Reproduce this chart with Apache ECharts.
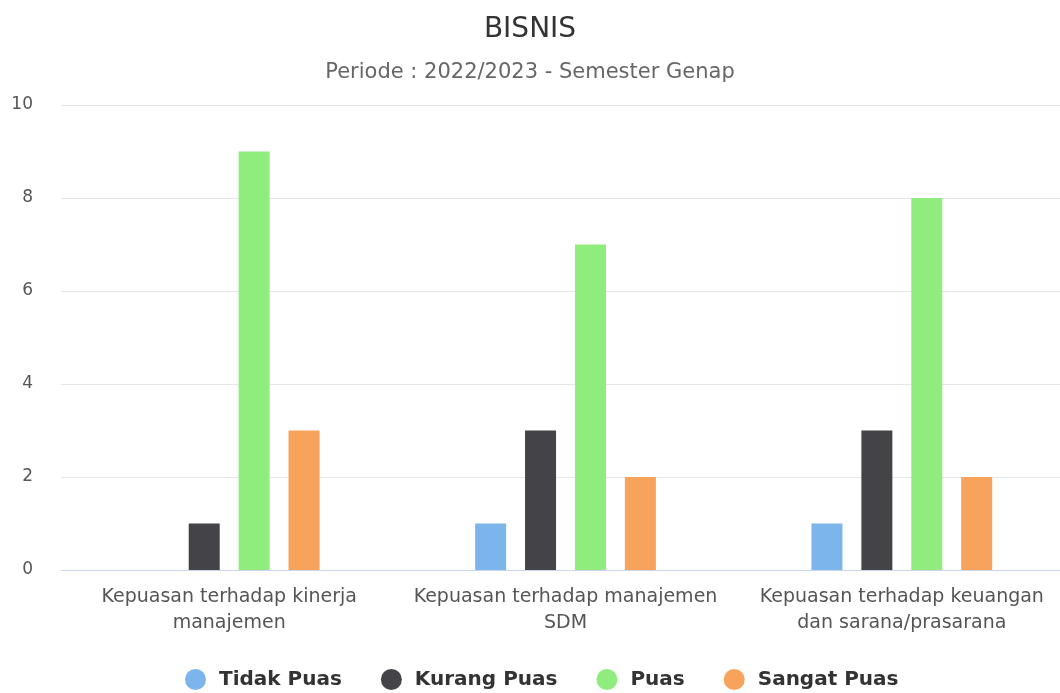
<!DOCTYPE html>
<html>
<head>
<meta charset="utf-8">
<script src="https://cdn.jsdelivr.net/npm/echarts@6/dist/echarts.min.js"></script>
<style>
html, body { margin: 0; padding: 0; background: #fff; }
#main { width: 1060px; height: 693px; }
</style>
</head>
<body>
<div id="main"></div>
<script>
var categories = ['Kepuasan terhadap kinerja\nmanajemen', 'Kepuasan terhadap manajemen\nSDM', 'Kepuasan terhadap keuangan\ndan sarana/prasarana'];
var tidakPuas = [0, 1, 1];
var kurangPuas = [1, 3, 3];
var puas = [9, 7, 8];
var sangatPuas = [3, 2, 2];
var yTicks = [0, 2, 4, 6, 8, 10];

var font = '"DejaVu Sans", sans-serif';
var chart = echarts.init(document.getElementById('main'));

function bar(name, data) {
  return {
    name: name,
    type: 'bar',
    data: data,
    barWidth: 31,
    barGap: '61%'
  };
}

chart.setOption({
  animation: false,
  color: ['#7cb5ec', '#434348', '#90ed7d', '#f7a35c'],
  textStyle: { fontFamily: font },
  title: {
    text: 'BISNIS',
    subtext: 'Periode : 2022/2023 - Semester Genap',
    left: 'center',
    top: 11,
    itemGap: 18,
    textStyle: { fontFamily: font, fontSize: 28, fontWeight: 'normal', color: '#333' },
    subtextStyle: { fontFamily: font, fontSize: 21, color: '#666' }
  },
  legend: {
    bottom: -2,
    left: 180,
    icon: 'circle',
    itemWidth: 21,
    itemHeight: 21,
    itemGap: 39,
    textStyle: { fontFamily: font, fontSize: 20, fontWeight: 'bold', color: '#333', padding: [0, 0, 0, 8] }
  },
  grid: { left: 61, right: -10, top: 105, bottom: 123, outerBoundsMode: 'none' },
  xAxis: {
    type: 'category',
    data: categories,
    axisTick: { show: false },
    axisLine: { lineStyle: { color: '#ccd6eb' } },
    axisLabel: { fontFamily: font, fontSize: 19, color: '#555', lineHeight: 26, margin: 14, interval: 0 }
  },
  yAxis: {
    type: 'value',
    min: yTicks[0],
    max: yTicks[yTicks.length - 1],
    interval: 2,
    axisLabel: { fontFamily: font, fontSize: 17, color: '#555', margin: 28 },
    splitLine: { lineStyle: { color: '#e6e6e6' } }
  },
  series: [
    bar('Tidak Puas', tidakPuas),
    bar('Kurang Puas', kurangPuas),
    bar('Puas', puas),
    bar('Sangat Puas', sangatPuas)
  ]
});
</script>
</body>
</html>
